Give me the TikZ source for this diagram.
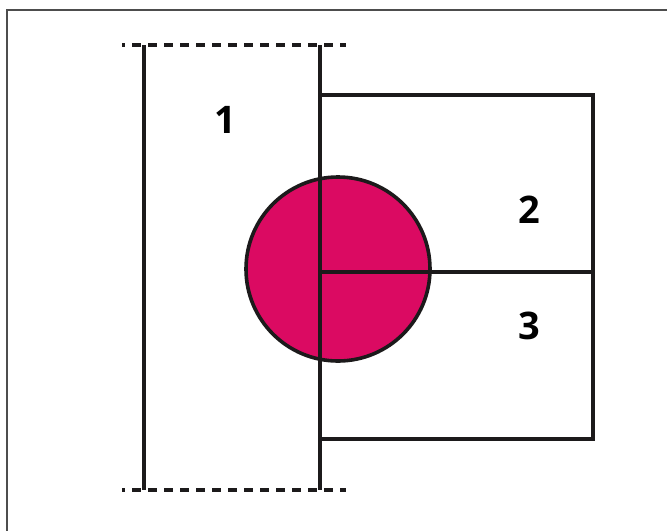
\documentclass[tikz,border=0pt]{standalone}
\usepackage{fontspec}
\setmainfont{Open Sans}
\usepackage{xcolor}
\usetikzlibrary{positioning}
\definecolor{zonepink}{HTML}{DB0A62}
\definecolor{inkline}{HTML}{1C1A1B}
\definecolor{framegray}{HTML}{4D4D4D}
\tikzset{
  edge/.style={draw=inkline, line width=3.6pt},
  guide/.style={draw=inkline, line width=3.6pt, dash pattern=on 9pt off 7pt, dash phase=6pt},
  frameline/.style={draw=framegray, line width=2pt},
  disc/.style={circle, fill=zonepink, draw=inkline, line width=3.6pt, inner sep=0pt, minimum size=184pt},
  zonelabel/.style={font=\bfseries\fontsize{38}{38}\selectfont, text=black, inner sep=0pt}
}
\begin{document}
\begin{tikzpicture}[x=1pt, y=-1pt]
\useasboundingbox (0,0) rectangle (667,531);
% frame, top and left only
\draw[frameline] (667,10) -- (7,10) -- (7,531);
% disc under the lines
\node[disc] (disc) at (338,269) {};
% zone 1
\draw[edge] (144,45) -- (144,490);
\draw[edge] (320,45) -- (320,490);
\draw[guide] (122,45) -- (346,45);
\draw[guide] (122,490) -- (346,490);
% zones 2 and 3
\draw[edge] (320,95) rectangle (593,439);
\draw[edge] (320,272) -- (593,272);
\node[zonelabel] (z1) at (225,120) {1};
\node[zonelabel] (z2) at (529,210) {2};
\node[zonelabel] (z3) at (529,326) {3};
\end{tikzpicture}
\end{document}
